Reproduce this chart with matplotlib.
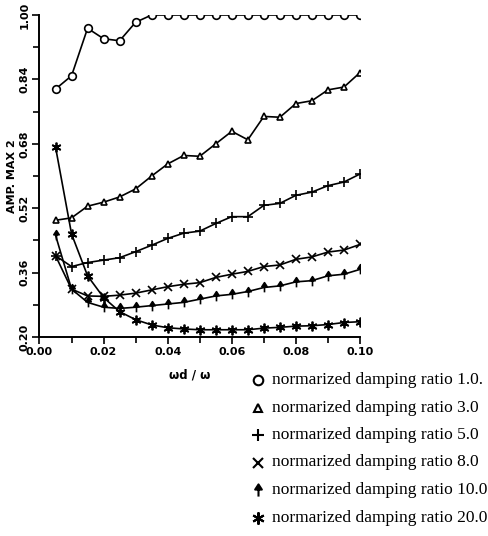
import numpy as np
import matplotlib
matplotlib.use("Agg")
import matplotlib.pyplot as plt
from matplotlib.path import Path
from matplotlib.lines import Line2D

# ---- data ----
x_ratio = [0.005, 0.010, 0.015, 0.020, 0.025, 0.030, 0.035, 0.040, 0.045, 0.050,
           0.055, 0.060, 0.065, 0.070, 0.075, 0.080, 0.085, 0.090, 0.095, 0.100]

damp_1 = [0.816, 0.849, 0.967, 0.941, 0.936, 0.982, 1.000, 1.000, 1.000, 1.000,
          1.000, 1.000, 1.000, 1.000, 1.000, 1.000, 1.000, 1.000, 1.000, 1.000]
damp_3 = [0.490, 0.496, 0.525, 0.535, 0.548, 0.568, 0.600, 0.630, 0.651, 0.649,
          0.680, 0.711, 0.690, 0.748, 0.746, 0.780, 0.787, 0.814, 0.821, 0.857]
damp_5 = [0.402, 0.375, 0.385, 0.391, 0.397, 0.412, 0.428, 0.445, 0.458, 0.463,
          0.482, 0.499, 0.499, 0.527, 0.532, 0.552, 0.560, 0.576, 0.585, 0.605]
damp_8 = [0.402, 0.319, 0.302, 0.301, 0.304, 0.309, 0.317, 0.325, 0.331, 0.335,
          0.348, 0.356, 0.363, 0.375, 0.379, 0.393, 0.399, 0.411, 0.416, 0.430]
damp_10 = [0.453, 0.319, 0.286, 0.274, 0.271, 0.274, 0.278, 0.282, 0.286, 0.294,
           0.302, 0.306, 0.313, 0.323, 0.327, 0.337, 0.340, 0.352, 0.356, 0.368]
damp_20 = [0.672, 0.456, 0.352, 0.298, 0.263, 0.243, 0.230, 0.223, 0.220, 0.218,
           0.218, 0.218, 0.218, 0.222, 0.224, 0.227, 0.228, 0.231, 0.236, 0.238]

series_labels = ["normarized damping ratio 1.0.",
                 "normarized damping ratio 3.0",
                 "normarized damping ratio 5.0",
                 "normarized damping ratio 8.0",
                 "normarized damping ratio 10.0",
                 "normarized damping ratio 20.0"]

x_ticks = [0.00, 0.02, 0.04, 0.06, 0.08, 0.10]
y_ticks = [0.20, 0.36, 0.52, 0.68, 0.84, 1.00]

# ---- markers ----
arrow_marker = Path(
    [(-0.55, 0.15), (0.55, 0.15), (0.0, 1.0), (-0.55, 0.15), (0.0, 0.15), (0.0, -1.0)],
    [Path.MOVETO, Path.LINETO, Path.LINETO, Path.CLOSEPOLY, Path.MOVETO, Path.LINETO])

styles = [
    dict(marker='o', ms=5.5, mfc='white', mew=1.2),
    dict(marker='^', ms=5, mfc='white', mew=1.2),
    dict(marker='+', ms=7, mew=1.2),
    dict(marker='x', ms=5.5, mew=1.2),
    dict(marker=arrow_marker, ms=7, mfc='black', mew=1.2),
    dict(marker=(6, 2, 0), ms=7, mew=1.3),
]
legend_scale = 1.25
all_series = [damp_1, damp_3, damp_5, damp_8, damp_10, damp_20]

W, H = 489, 536
fig = plt.figure(figsize=(W / 100, H / 100), dpi=100)
ax = fig.add_axes([39.5 / W, 1 - 337 / H, (360 - 39.5) / W, (337 - 15) / H])

for ys, st in zip(all_series, styles):
    ax.plot(x_ratio, ys, color='black', lw=1.2, mec='black', **st)

ax.set_xlim(0.0, 0.10)
ax.set_ylim(0.20, 1.00)
ax.spines['top'].set_visible(False)
ax.spines['right'].set_visible(False)
for s in ['left', 'bottom']:
    ax.spines[s].set_linewidth(1.4)

tick_font = dict(family='DejaVu Sans', weight='bold', size=8)
ax.set_xticks(x_ticks)
ax.set_xticks(np.arange(0.0, 0.1001, 0.01), minor=True)
ax.set_xticklabels([f"{t:.2f}" for t in x_ticks], **tick_font)
ax.set_yticks(y_ticks)
ax.set_yticks(np.arange(0.20, 1.0001, 0.08), minor=True)
ax.set_yticklabels([f"{t:.2f}" for t in y_ticks], rotation=90, va='center', **tick_font)
ax.tick_params(axis='both', which='both', direction='out', width=1.2)
ax.tick_params(axis='both', which='major', length=5, pad=2)
ax.tick_params(axis='both', which='minor', length=4)

ax.set_ylabel("AMP. MAX 2", family='DejaVu Sans', weight='bold', size=8, labelpad=2)
ax.set_xlabel("ωd / ω", family='DejaVu Sans', weight='bold', size=8.5)
ax.xaxis.set_label_coords(150 / (360 - 39.5), -31 / (337 - 15))

# ---- legend (placed manually below the axes) ----
row_y0, row_step = 380, 27.5
marker_x, text_x = 258, 272
for i, (st, lab) in enumerate(zip(styles, series_labels)):
    yy = 1 - (row_y0 + i * row_step) / H
    lst = dict(st)
    lst['ms'] = st['ms'] * legend_scale
    lst['mew'] = 1.5
    fig.add_artist(Line2D([marker_x / W], [yy], transform=fig.transFigure,
                          color='black', linestyle='none', mec='black', **lst))
    fig.text(text_x / W, yy, lab, ha='left', va='center',
             family='Liberation Serif', size=12.5)

fig.savefig("out.png", dpi=100)
